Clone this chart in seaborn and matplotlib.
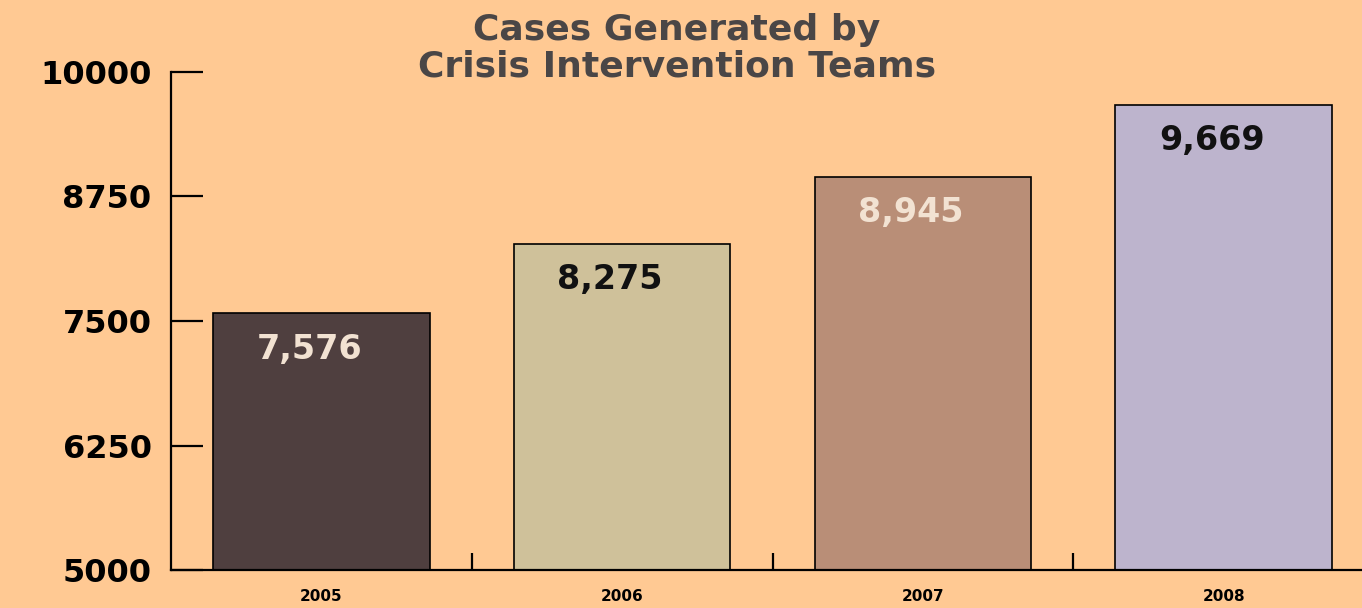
import matplotlib
matplotlib.use("Agg")
import matplotlib.pyplot as plt
import seaborn as sns
import pandas as pd
from matplotlib.ticker import FixedLocator

# --- Data ---
years = ["2005", "2006", "2007", "2008"]
cases = [7576, 8275, 8945, 9669]
bar_colors = ["#4f3f3f", "#cfc19a", "#b98e77", "#bdb4cd"]
label_colors = ["#f2e2d2", "#111111", "#f2e2d2", "#111111"]
y_ticks = [5000, 6250, 7500, 8750, 10000]

bg = "#ffc993"

df = pd.DataFrame({"year": years, "cases": cases})

sns.set_style("white")
plt.rcParams["font.family"] = ["DejaVu Sans"]

fig = plt.figure(figsize=(13.62, 6.08), dpi=100)
fig.patch.set_facecolor(bg)
ax = fig.add_axes([171 / 1362, 38 / 608, 1 - 171 / 1362, 498 / 608])
ax.set_facecolor(bg)

sns.barplot(data=df, x="year", y="cases", hue="year", palette=bar_colors,
            legend=False, width=0.72, saturation=1, edgecolor="black",
            linewidth=1.2, ax=ax)

ax.set_ylim(5000, 10000)
ax.set_xlim(-0.5, 3.46)

# value labels inside the bars
for i, (v, c) in enumerate(zip(cases, label_colors)):
    ax.text(i - 0.04, v - 360, f"{v:,}", ha="center", va="center",
            fontsize=24, fontweight="bold", color=c)

# axis styling
for s in ["top", "right"]:
    ax.spines[s].set_visible(False)
for s in ["left", "bottom"]:
    ax.spines[s].set_linewidth(1.6)
    ax.spines[s].set_color("black")

ax.set_yticks(y_ticks)
ax.set_yticklabels([str(t) for t in y_ticks], fontsize=23, fontweight="bold")
ax.tick_params(axis="y", left=True, direction="in", length=23, width=1.6,
               pad=14, colors="black")

ax.xaxis.set_minor_locator(FixedLocator([0.5, 1.5, 2.5]))
ax.tick_params(axis="x", which="major", bottom=True, length=0, pad=14,
               labelsize=11, labelcolor="black")
ax.tick_params(axis="x", which="minor", bottom=True, direction="in",
               length=12, width=1.6, color="black")
for lbl in ax.get_xticklabels():
    lbl.set_fontweight("bold")

ax.set_xlabel("")
ax.set_ylabel("")

fig.text(0.497, 0.921, "Cases Generated by\nCrisis Intervention Teams",
         ha="center", va="center", fontsize=26, fontweight="bold",
         color="#4a4646", linespacing=1.1)

fig.savefig("out.png", dpi=100, facecolor=bg)
plt.close(fig)
